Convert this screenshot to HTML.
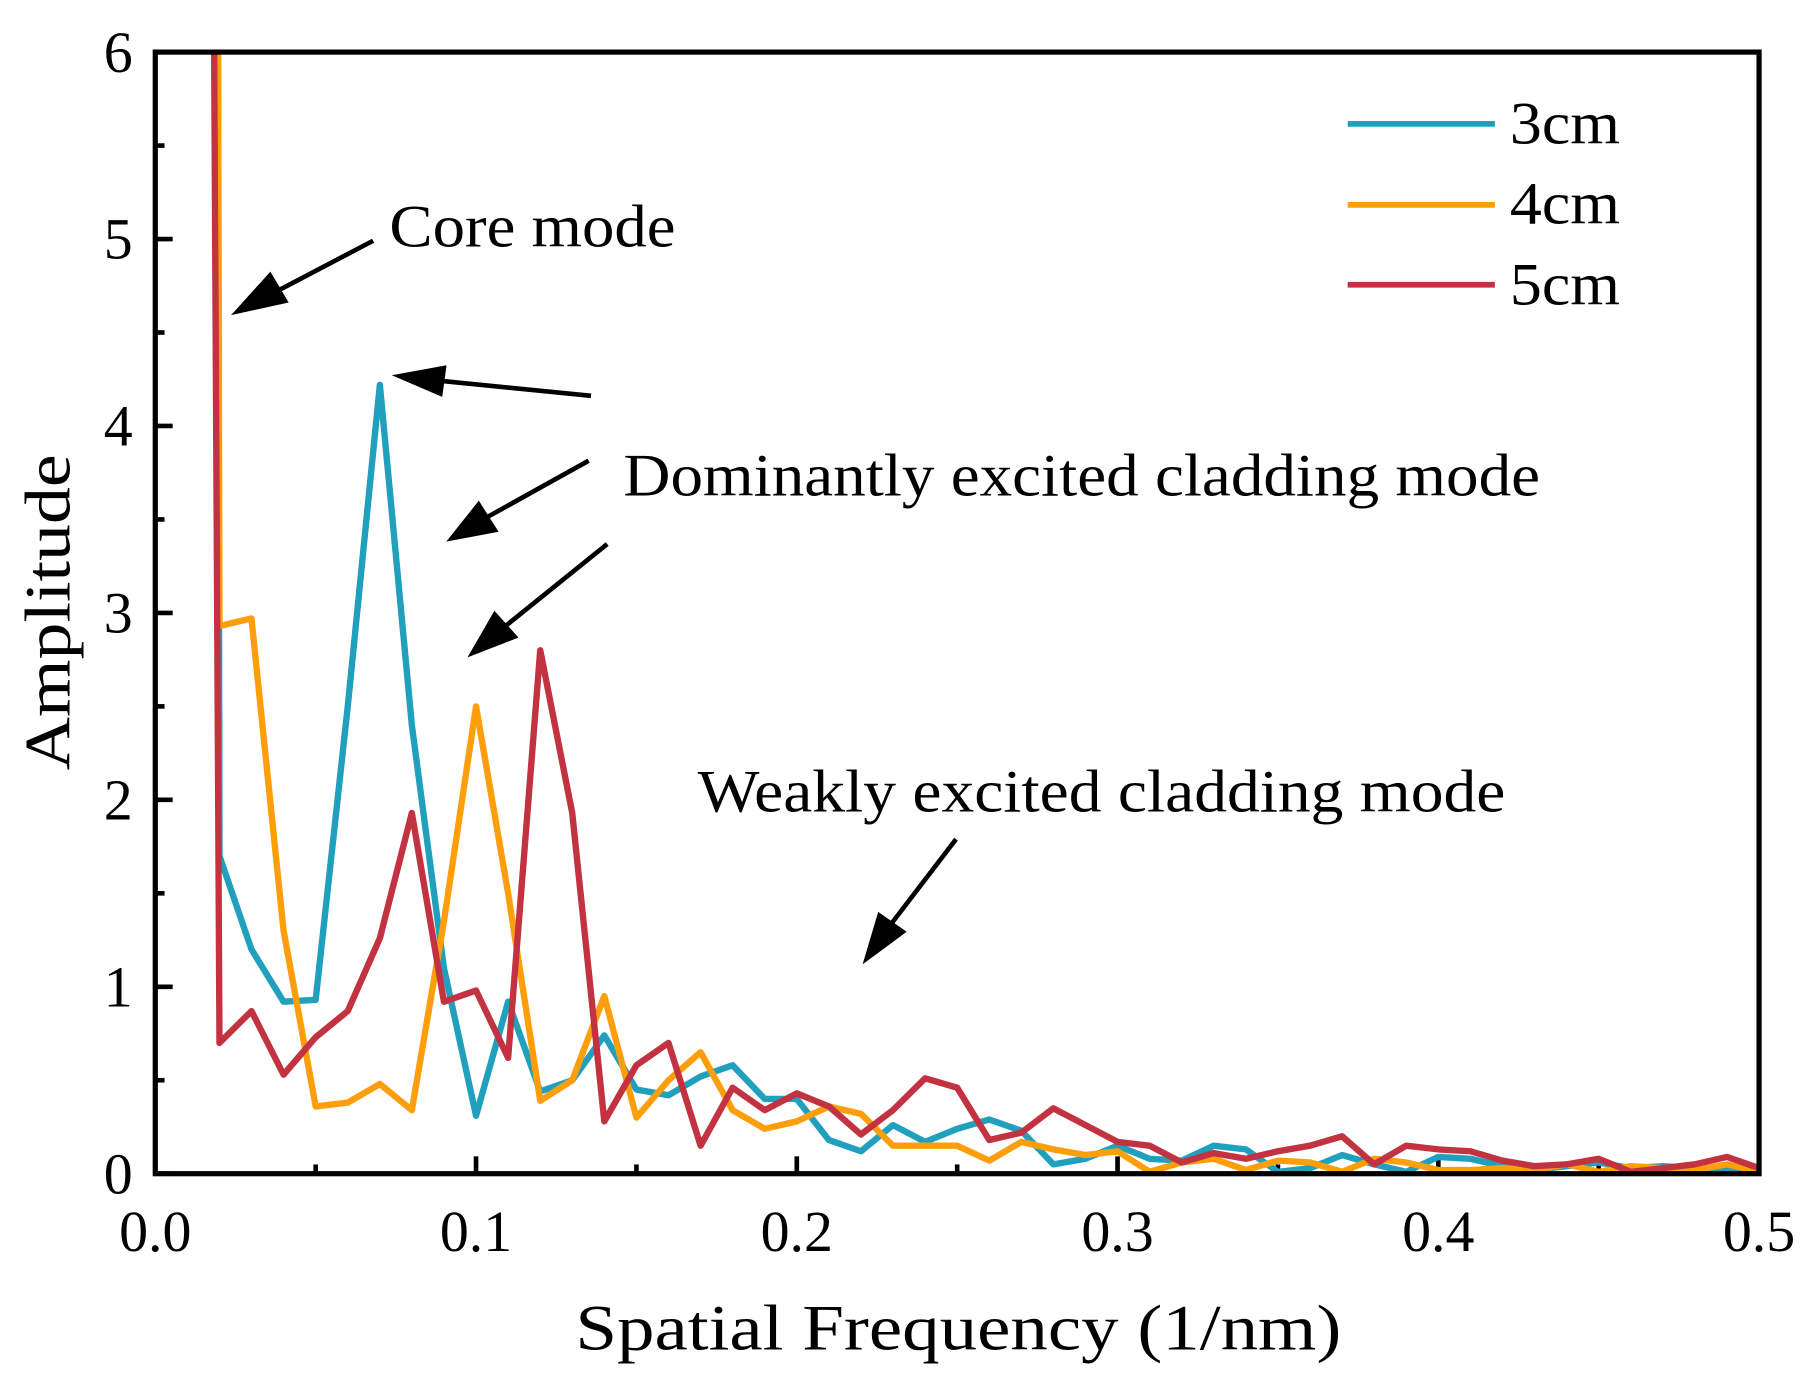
<!DOCTYPE html>
<html><head><meta charset="utf-8"><style>html,body{margin:0;padding:0;background:#fff}svg{display:block}</style></head>
<body>
<svg id="s" width="1817" height="1389" viewBox="0 0 1568 1200" preserveAspectRatio="none" xmlns="http://www.w3.org/2000/svg" style="font-family:'Liberation Serif','Times New Roman',serif">
<defs><clipPath id="c"><rect x="134" y="45" width="1384" height="969"/></clipPath></defs>
<g id="ticks" stroke="#000" stroke-width="4"></g>
<g id="series" clip-path="url(#c)" fill="none" stroke-width="5.5" stroke-linejoin="round"></g>
<rect x="134" y="45" width="1384" height="969" fill="none" stroke="#000" stroke-width="4.5"/>
<g id="labels" font-size="50" text-anchor="middle"></g>
<text x="827" y="1166" font-size="56" text-anchor="middle" textLength="661" lengthAdjust="spacingAndGlyphs">Spatial Frequency (1/nm)</text>
<text transform="translate(60,529) rotate(-90)" font-size="56" text-anchor="middle" textLength="273" lengthAdjust="spacingAndGlyphs">Amplitude</text>
<g stroke-width="5">
<line x1="1163" y1="107" x2="1290" y2="107" stroke="#21A0BE"/>
<line x1="1163" y1="177" x2="1290" y2="177" stroke="#FF9E0B"/>
<line x1="1163" y1="246" x2="1290" y2="246" stroke="#C33241"/>
</g>
<g font-size="52">
<text x="1303" y="124" textLength="95" lengthAdjust="spacingAndGlyphs">3cm</text>
<text x="1303" y="193" textLength="95" lengthAdjust="spacingAndGlyphs">4cm</text>
<text x="1303" y="263" textLength="95" lengthAdjust="spacingAndGlyphs">5cm</text>
<text x="336" y="213" textLength="247" lengthAdjust="spacingAndGlyphs">Core mode</text>
<text x="538" y="428" textLength="791" lengthAdjust="spacingAndGlyphs">Dominantly excited cladding mode</text>
<text x="602" y="701" textLength="697" lengthAdjust="spacingAndGlyphs">Weakly excited cladding mode</text>
</g>
<g stroke="#000" stroke-width="4" fill="#000">
<line x1="322" y1="208" x2="240" y2="251"/><path d="M205,269 L233,238 L246,260 Z"/>
<line x1="510" y1="342" x2="380" y2="329"/><path d="M345,325 L383,318 L380,340 Z"/>
<line x1="508" y1="398" x2="420" y2="447"/><path d="M390,465 L413,436 L427,458 Z"/>
<line x1="524" y1="470" x2="436" y2="541"/><path d="M408,564 L427,531 L444,550 Z"/>
<line x1="825" y1="725" x2="770" y2="797"/><path d="M748,828 L759,791 L779,805 Z"/>
</g>
</svg>
<script>
var X=function(v){return 134+v*2768},Y=function(v){return 1014-v*161.5};
var ns="http://www.w3.org/2000/svg";
function el(p,t,a,txt){var e=document.createElementNS(ns,t);for(var k in a)e.setAttribute(k,a[k]);if(txt!==undefined)e.textContent=txt;document.getElementById(p).appendChild(e);return e}
for(var i=0;i<=10;i++){var x=X(i*0.05),L=i%2?8:15;el("ticks","line",{x1:x,y1:1014,x2:x,y2:1014-L});if(i%2==0)el("labels","text",{x:x,y:1081},(i*0.05).toFixed(1));}
for(var i=0;i<=12;i++){var y=Y(i*0.5),L=i%2?8:15;el("ticks","line",{x1:134,y1:y,x2:134+L,y2:y});if(i%2==0)el("labels","text",{x:102,y:y+17},String(i/2));}
var T=[1.7,1.2,0.92,0.93,2.5,4.22,2.4,1.1,0.31,0.92,0.44,0.5,0.74,0.45,0.42,0.52,0.58,0.4,0.4,0.18,0.12,0.26,0.17,0.24,0.29,0.23,0.05,0.08,0.15,0.08,0.07,0.15,0.13,0.01,0.03,0.1,0.05,0.01,0.09,0.08,0.04,0.02,0.04,0.06,0.03,0.04,0.03,0.03,0.01];
var O=[2.93,2.97,1.3,0.36,0.38,0.48,0.34,1.35,2.5,1.5,0.39,0.5,0.95,0.3,0.5,0.65,0.34,0.24,0.28,0.36,0.32,0.15,0.15,0.15,0.07,0.17,0.13,0.1,0.12,0.01,0.06,0.08,0.02,0.07,0.06,0.01,0.08,0.06,0.02,0.02,0.03,0.02,0.05,0.01,0.04,0.03,0.02,0.05,0.01];
var R=[0.7,0.87,0.53,0.73,0.87,1.26,1.93,0.92,0.98,0.62,2.8,1.93,0.28,0.58,0.7,0.15,0.46,0.34,0.43,0.36,0.21,0.34,0.51,0.46,0.18,0.22,0.35,0.26,0.17,0.15,0.06,0.11,0.08,0.12,0.15,0.2,0.05,0.15,0.13,0.12,0.07,0.04,0.05,0.08,0.01,0.03,0.05,0.09,0.03];
function path(d,x0,c){var s="M"+X(x0)+","+Y(6.5);d.forEach(function(v,i){s+=" L"+X(0.02+i*0.01).toFixed(1)+","+Y(v).toFixed(1)});el("series","path",{d:s,stroke:c})}
path(T,0.0195,"#21A0BE");path(O,0.0195,"#FF9E0B");path(R,0.0182,"#C33241");
</script>
</body></html>
